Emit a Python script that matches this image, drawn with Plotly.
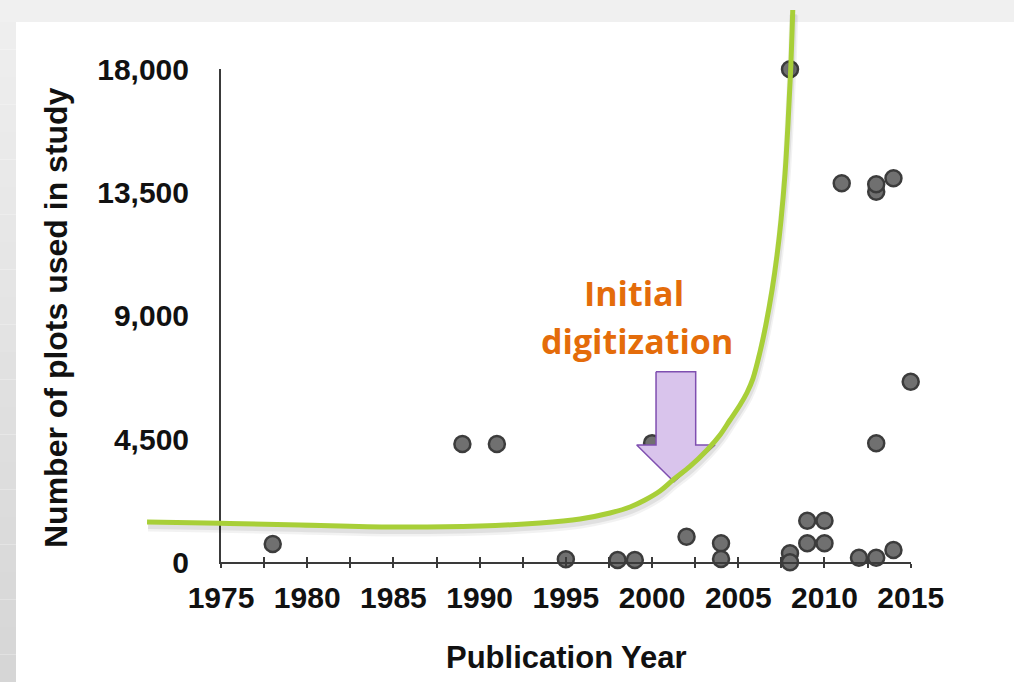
import plotly.graph_objects as go

# ---------------- data ----------------
years = [1978, 1989, 1991, 1995, 1998, 1999, 2000, 2002, 2004, 2004,
         2008, 2008, 2008, 2009, 2009, 2010, 2010, 2011, 2012, 2013,
         2013, 2013, 2013, 2014, 2014, 2015]
plots = [670, 4320, 4320, 110, 84, 84, 4350, 935, 694, 120,
         18000, 330, 0, 1519, 694, 1519, 694, 13840, 168, 168,
         4345, 13530, 13800, 449, 14020, 6594]

# hand-drawn trend curve (annotation), in data units
curve_years = [1970.71, 1975.00, 1979.58, 1984.98, 1990.02, 1993.50, 1995.82,
               1997.56, 1998.72, 1999.59, 2000.46, 2001.21, 2002.20, 2003.19,
               2003.94, 2004.52, 2005.10, 2005.51, 2005.85, 2006.26, 2006.61,
               2006.96, 2007.25, 2007.48, 2007.71, 2007.88, 2008.04, 2008.16]
curve_plots = [1471, 1424, 1362, 1289, 1325, 1435, 1581,
               1800, 2019, 2275, 2603, 3005, 3498, 4100,
               4648, 5196, 5743, 6200, 6707, 7678, 8701,
               9942, 11220, 12498, 14177, 15966, 18000, 20165]

# block arrow outline (annotation), in data units
arrow_years = [2000.23, 2002.53, 2002.53, 2003.65, 2001.27, 1999.11, 2000.23, 2000.23]
arrow_plots = [6958, 6958, 4282, 4282, 2942, 4282, 4282, 6958]

x_tick_vals = [1975, 1980, 1985, 1990, 1995, 2000, 2005, 2010, 2015]
x_minor_vals = [1977.5, 1982.5, 1987.5, 1992.5, 1997.5, 2002.5, 2007.5, 2012.5]
y_tick_vals = [0, 4500, 9000, 13500, 18000]
y_tick_text = ["0", "4,500", "9,000", "13,500", "18,000"]

# ---------------- layout geometry ----------------
W, H = 1014, 682
PX_X0, PX_X1 = 221.0, 910.7
PX_Y0, PX_Y1 = 562.3, 69.3
X_MIN, X_MAX = 1975, 2015
Y_MIN, Y_MAX = 0, 18000


def px_to_year(px):
    return X_MIN + (px - PX_X0) * (X_MAX - X_MIN) / (PX_X1 - PX_X0)


def py_to_val(py):
    return Y_MIN + (PX_Y0 - py) * (Y_MAX - Y_MIN) / (PX_Y0 - PX_Y1)


yr_per_px = (X_MAX - X_MIN) / (PX_X1 - PX_X0)
val_per_px = (Y_MAX - Y_MIN) / (PX_Y0 - PX_Y1)

AXIS_COLOR = "#3a3a3a"
TICK_FONT = dict(family="Liberation Sans, Arial, sans-serif", size=30, color="#111111", weight="bold")
NOTE_FONT = dict(family="Open Sans, Lato, sans-serif", size=34, color="#E46C0A", weight="bold")

fig = go.Figure()

fig.add_trace(go.Scatter(
    x=years, y=plots, mode="markers", xaxis="x", yaxis="y",
    marker=dict(size=16, color="#707070", line=dict(color="#3c3c3c", width=2.5)),
    cliponaxis=False, hoverinfo="skip"))

# arrow
fig.add_trace(go.Scatter(
    x=arrow_years, y=arrow_plots, mode="lines", fill="toself",
    fillcolor="#D9C4EC", line=dict(color="#7F4FB0", width=1.5),
    xaxis="x2", yaxis="y2", hoverinfo="skip"))

# curve shadow (soft, two passes)
for dy, wdt, alpha in [(5, 9, 0.05), (4, 6, 0.07)]:
    fig.add_trace(go.Scatter(
        x=[v + 1 * yr_per_px for v in curve_years],
        y=[v - dy * val_per_px for v in curve_plots],
        mode="lines", line=dict(color=f"rgba(0,0,0,{alpha})", width=wdt, shape="spline", smoothing=1.0),
        xaxis="x2", yaxis="y2", hoverinfo="skip"))

# curve
fig.add_trace(go.Scatter(
    x=curve_years, y=curve_plots, mode="lines",
    line=dict(color="#A8CF38", width=5, shape="spline", smoothing=1.0),
    xaxis="x2", yaxis="y2", hoverinfo="skip"))

# invisible trace to carry the overlay tick axis
fig.add_trace(go.Scatter(x=[X_MIN], y=[Y_MIN], mode="markers", marker=dict(opacity=0),
                         xaxis="x3", yaxis="y", hoverinfo="skip"))

shapes = []
shapes.append(dict(type="rect", xref="paper", yref="paper", x0=0, x1=1,
                   y0=1 - 22 / H, y1=1, fillcolor="#f0f0f0", line=dict(width=0), layer="below"))
n = 24
top = 1 - 22 / H
for i in range(n):
    t = i / (n - 1)
    g = int(round(0xee - (0xee - 0xd6) * t))
    shapes.append(dict(type="rect", xref="paper", yref="paper", x0=0, x1=16 / W,
                       y0=top - (i + 1) * top / n, y1=top - i * top / n,
                       fillcolor=f"rgb({g},{g},{g})", line=dict(width=0), layer="below"))

annotations = [
    dict(text="Publication Year", x=566 / W, y=1 - 657 / H, xref="paper", yref="paper",
         showarrow=False, xanchor="center", yanchor="middle",
         font=dict(family="Liberation Sans, Arial, sans-serif", size=31, color="#111111", weight="bold")),
    dict(text="Number of plots used in study", x=56 / W, y=1 - 318 / H, xref="paper", yref="paper",
         showarrow=False, xanchor="center", yanchor="middle", textangle=-90,
         font=dict(family="Liberation Sans, Arial, sans-serif", size=32, color="#111111", weight="bold")),
    dict(text="Initial", x=634 / W, y=1 - 293 / H, xref="paper", yref="paper",
         showarrow=False, xanchor="center", yanchor="middle", font=NOTE_FONT),
    dict(text="digitization", x=637 / W, y=1 - 341 / H, xref="paper", yref="paper",
         showarrow=False, xanchor="center", yanchor="middle", font=NOTE_FONT),
]

fig.update_layout(
    width=W, height=H, autosize=False, margin=dict(l=0, r=0, t=0, b=0, pad=0, autoexpand=False),
    paper_bgcolor="white", plot_bgcolor="rgba(0,0,0,0)", showlegend=False,
    shapes=shapes, annotations=annotations,
    xaxis=dict(domain=[PX_X0 / W, PX_X1 / W], range=[X_MIN, X_MAX], anchor="y", automargin=False,
               showline=True, linecolor=AXIS_COLOR, linewidth=2, showgrid=False, zeroline=False,
               tickmode="array", tickvals=x_tick_vals, ticks="outside", ticklen=4, tickwidth=2,
               tickcolor=AXIS_COLOR, tickfont=TICK_FONT, ticklabelstandoff=4,
               minor=dict(tickmode="array", tickvals=x_minor_vals, ticks="outside", ticklen=4,
                          tickwidth=2, tickcolor=AXIS_COLOR, showgrid=False)),
    xaxis3=dict(overlaying="x", anchor="y", range=[X_MIN, X_MAX], side="bottom", automargin=False,
                showline=False, showgrid=False, zeroline=False, showticklabels=False,
                tickmode="array", tickvals=x_tick_vals + x_minor_vals, ticks="inside",
                ticklen=5, tickwidth=2, tickcolor=AXIS_COLOR),
    yaxis=dict(domain=[1 - PX_Y0 / H, 1 - PX_Y1 / H], range=[Y_MIN, Y_MAX], anchor="x", automargin=False,
               showline=True, linecolor=AXIS_COLOR, linewidth=2, showgrid=False, zeroline=False,
               tickmode="array", tickvals=y_tick_vals, ticktext=y_tick_text, ticks="",
               tickfont=TICK_FONT, ticklabelstandoff=24),
    xaxis2=dict(domain=[0, 1], range=[px_to_year(0), px_to_year(W)], anchor="y2", visible=False,
                fixedrange=True, automargin=False),
    yaxis2=dict(domain=[0, 1], range=[py_to_val(H), py_to_val(0)], anchor="x2", visible=False,
                fixedrange=True, automargin=False),
)

fig.write_html("out.html", config={"displayModeBar": False},
               post_script="document.body.style.margin='0';document.body.style.overflow='hidden';")
